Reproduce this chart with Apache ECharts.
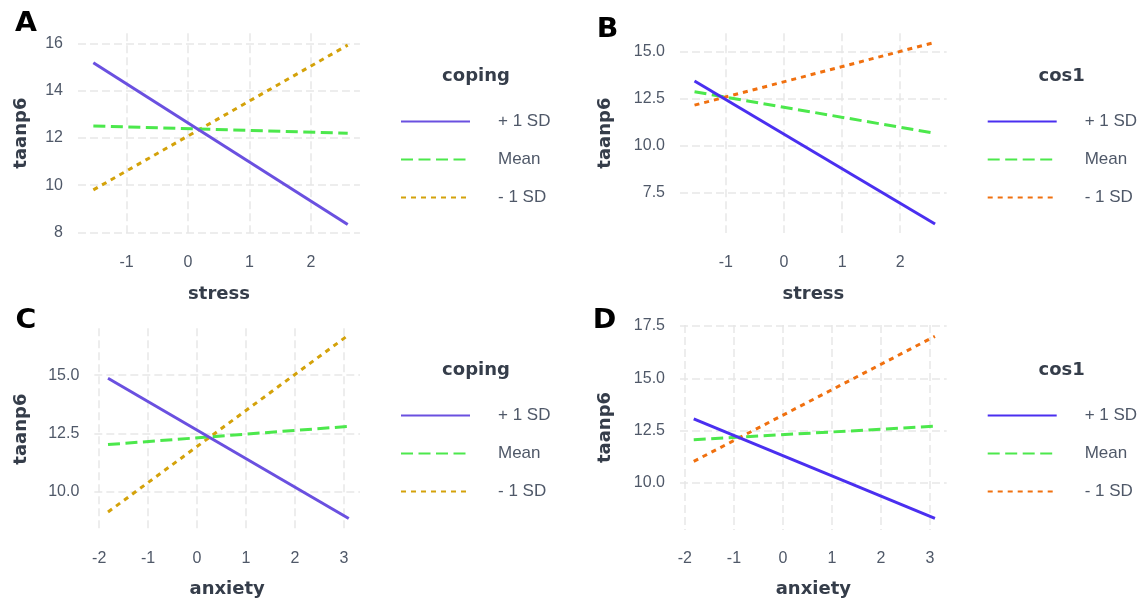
<!DOCTYPE html>
<html>
<head>
<meta charset="utf-8">
<script src="https://cdn.jsdelivr.net/npm/echarts@6/dist/echarts.min.js"></script>
<style>
  html, body { margin: 0; padding: 0; background: #ffffff; }
  #wrap { position: relative; width: 1141px; height: 599px; }
  .panel { position: absolute; }
</style>
</head>
<body>
<div id="wrap">
  <div class="panel" id="pA" style="left:0;top:0;width:570px;height:300px"></div>
  <div class="panel" id="pB" style="left:570px;top:0;width:571px;height:300px"></div>
  <div class="panel" id="pC" style="left:0;top:300px;width:570px;height:299px"></div>
  <div class="panel" id="pD" style="left:570px;top:300px;width:571px;height:299px"></div>
</div>
<script>
// Simple slopes of taanp6 at three levels of the moderator
const levelNames = ['+ 1 SD', 'Mean', '- 1 SD'];

// predictor ranges (x at the start and end of each fitted line)
const stressRange = [-1.54, 2.60];
const anxietyRange = [-1.82, 3.10];

// A: stress x coping
const aPlus = [15.19, 8.33];
const aMean = [12.51, 12.20];
const aMinus = [9.80, 15.94];

// B: stress x cos1
const bPlus = [13.44, 5.84];
const bMean = [12.87, 10.66];
const bMinus = [12.16, 15.50];

// C: anxiety x coping
const cPlus = [14.87, 8.86];
const cMean = [12.03, 12.81];
const cMinus = [9.14, 16.73];

// D: anxiety x cos1
const dPlus = [13.06, 8.31];
const dMean = [12.07, 12.71];
const dMinus = [11.03, 17.01];

const FONT = '"Liberation Sans", Arial, sans-serif';
const BOLD_FONT = '"DejaVu Sans", Verdana, sans-serif';
const TICK_COLOR = '#4f5868';
const TITLE_COLOR = '#353d4a';
const GRID_COLOR = '#e8e8e8';

const copingColors = ['#6a50e0', '#4ce84c', '#d4a20a'];
const cosColors = ['#4a2ff0', '#4ce84c', '#f0700f'];
const lineTypes = ['solid', [12, 5.5], [5, 5]];

function pairs(xs, ys) {
  return xs.map((x, i) => [x, ys[i]]);
}

function onTick(step) {
  return function (v) {
    const k = Math.round(v / step);
    return Math.abs(v - k * step) < 1e-6;
  };
}

function buildPanel(el, cfg) {
  const chart = echarts.init(document.getElementById(el), null, { renderer: 'canvas' });
  const yOk = onTick(cfg.yStep);
  const xOk = onTick(1);
  const series = cfg.lines.map((ys, i) => ({
    name: levelNames[i],
    type: 'line',
    data: pairs(cfg.xRange, ys),
    symbol: 'none',
    silent: true,
    animation: false,
    lineStyle: { color: cfg.colors[i], width: 3, type: lineTypes[i], cap: 'butt' },
    itemStyle: { color: cfg.colors[i], opacity: 0 },
    z: 3 - i
  }));
  const axisCommon = {
    axisLine: { show: false },
    axisTick: { show: false },
    splitLine: {
      show: true,
      showMinLine: false,
      showMaxLine: false,
      lineStyle: { color: GRID_COLOR, width: 1.5, type: [8, 4] }
    }
  };
  const nameStyle = { fontFamily: BOLD_FONT, fontSize: 18, fontWeight: 'bold', color: TITLE_COLOR };
  chart.setOption({
    animation: false,
    textStyle: { fontFamily: FONT },
    graphic: [
      {
        type: 'text', x: cfg.letterPos[0], y: cfg.letterPos[1], scaleX: 1.05, silent: true,
        style: {
          text: cfg.letter, fill: '#000000', align: 'center', verticalAlign: 'middle',
          font: 'bold 27px "DejaVu Sans", Verdana, sans-serif'
        }
      },
      {
        type: 'text', x: cfg.legendCenter, y: cfg.legendTitleY, silent: true,
        style: {
          text: cfg.moderator, fill: TITLE_COLOR, align: 'center', verticalAlign: 'middle',
          font: 'bold 18px "DejaVu Sans", Verdana, sans-serif'
        }
      }
    ],
    legend: {
      orient: 'vertical',
      left: cfg.legendLeft,
      top: cfg.legendTop,
      padding: 0,
      itemWidth: 69,
      itemHeight: 14,
      itemGap: 21,
      selectedMode: false,
      data: levelNames,
      itemStyle: { opacity: 0 },
      textStyle: { fontFamily: FONT, fontSize: 17, lineHeight: 14, color: TICK_COLOR, padding: [0, 0, 0, 23] }
    },
    grid: {
      left: cfg.grid[0], top: cfg.grid[1], width: cfg.grid[2], height: cfg.grid[3],
      outerBoundsMode: 'none'
    },
    xAxis: Object.assign({}, axisCommon, {
      type: 'value',
      min: cfg.xLim[0], max: cfg.xLim[1],
      minInterval: 1, maxInterval: 1,
      name: cfg.xName,
      nameLocation: 'middle',
      nameGap: cfg.xNameGap,
      nameTextStyle: nameStyle,
      axisLabel: {
        margin: cfg.xLabelMargin, fontSize: 16, color: TICK_COLOR, fontFamily: FONT,
        showMinLabel: false, showMaxLabel: false,
        formatter: v => (xOk(v) ? String(Math.round(v)) : '')
      }
    }),
    yAxis: Object.assign({}, axisCommon, {
      type: 'value',
      min: cfg.yLim[0], max: cfg.yLim[1],
      minInterval: cfg.yStep, maxInterval: cfg.yStep,
      name: 'taanp6',
      nameLocation: 'middle',
      nameRotate: 90,
      nameGap: cfg.yNameGap,
      nameTextStyle: nameStyle,
      axisLabel: {
        margin: 15, fontSize: 16, color: TICK_COLOR, fontFamily: FONT,
        showMinLabel: false, showMaxLabel: false,
        formatter: v => (yOk(v) ? v.toFixed(cfg.yDigits) : '')
      }
    }),
    series: series
  });
  return chart;
}

buildPanel('pA', {
  letter: 'A', letterPos: [26, 24], moderator: 'coping', colors: copingColors,
  xRange: stressRange, lines: [aPlus, aMean, aMinus],
  xName: 'stress', xLim: [-1.79, 2.80], yLim: [7.97, 16.44], yStep: 2, yDigits: 0,
  grid: [78, 33.3, 282, 199.7], xNameGap: 52, xLabelMargin: 22, yNameGap: 48,
  legendLeft: 400, legendTop: 113, legendCenter: 476, legendTitleY: 76
});
buildPanel('pB', {
  letter: 'B', letterPos: [37.5, 30], moderator: 'cos1', colors: cosColors,
  xRange: stressRange, lines: [bPlus, bMean, bMinus],
  xName: 'stress', xLim: [-1.79, 2.80], yLim: [5.36, 15.98], yStep: 2.5, yDigits: 1,
  grid: [110, 33.3, 266.7, 199.7], xNameGap: 52, xLabelMargin: 22, yNameGap: 66,
  legendLeft: 416.7, legendTop: 113, legendCenter: 491.7, legendTitleY: 76
});
buildPanel('pC', {
  letter: 'C', letterPos: [26, 21], moderator: 'coping', colors: copingColors,
  xRange: anxietyRange, lines: [cPlus, cMean, cMinus],
  xName: 'anxiety', xLim: [-2.10, 3.33], yLim: [8.37, 17.01], yStep: 2.5, yDigits: 1,
  grid: [94.3, 28.3, 265.7, 201.7], xNameGap: 50, xLabelMargin: 20.5, yNameGap: 64,
  legendLeft: 400, legendTop: 107, legendCenter: 476, legendTitleY: 70
});
buildPanel('pD', {
  letter: 'D', letterPos: [34.5, 21], moderator: 'cos1', colors: cosColors,
  xRange: anxietyRange, lines: [dPlus, dMean, dMinus],
  xName: 'anxiety', xLim: [-2.10, 3.34], yLim: [7.75, 17.55], yStep: 2.5, yDigits: 1,
  grid: [110, 25, 266.7, 205], xNameGap: 50, xLabelMargin: 20.5, yNameGap: 66,
  legendLeft: 416.7, legendTop: 107, legendCenter: 491.7, legendTitleY: 70
});
</script>
</body>
</html>
